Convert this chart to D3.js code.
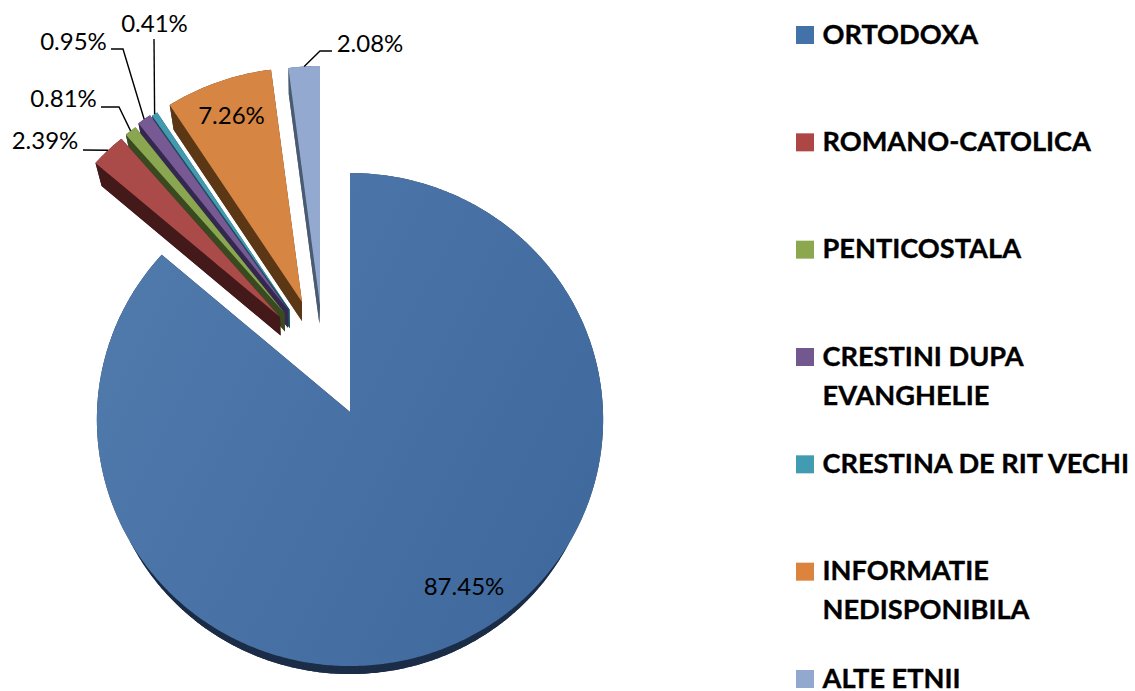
<!DOCTYPE html>
<html>
<head>
<meta charset="utf-8">
<script src="https://cdn.jsdelivr.net/npm/d3@7"></script>
<style>
html,body{margin:0;padding:0;background:#fff;}
svg{display:block;}
text{font-family:Lato,"Noto Sans",sans-serif;fill:#000;}
</style>
</head>
<body>
<svg id="chart" width="1135" height="691"></svg>
<script>
// ---- data ----
const categories = ["ORTODOXA","ROMANO-CATOLICA","PENTICOSTALA","CRESTINI DUPA EVANGHELIE","CRESTINA DE RIT VECHI","INFORMATIE NEDISPONIBILA","ALTE ETNII"];
const values = [87.45,2.39,0.81,0.95,0.41,7.26,2.08];
const valueLabels = ["87.45%","2.39%","0.81%","0.95%","0.41%","7.26%","2.08%"];
const legendLines = [["ORTODOXA"],["ROMANO-CATOLICA"],["PENTICOSTALA"],["CRESTINI DUPA","EVANGHELIE"],["CRESTINA DE RIT VECHI"],["INFORMATIE","NEDISPONIBILA"],["ALTE ETNII"]];

// ---- style and layout ----
const topColors = ["url(#mainGrad)","#AA4B49","#8AA650","#775A94","#4299B0","#D68542","#93A9CF"];
const wallColors = ["#1B2D47","#431919","#3A4A20","#352850","#1B4B5A","#5C3716","#4A5A70"];
const swatchColors = ["#4272A8","#AD4745","#8CA84F","#73578F","#419BB1","#DC843D","#92A8CF"];
const explodeX = [0,-70,-65.5,-62.5,-60.5,-48,-30];
const explodeY = [0,-95,-99,-103,-102.5,-110,-107];
const radiusFactor = [1,.98,.98,.98,.98,.98,1];
const vanishX = [350,300,300,300,300,300,300];
const drawOrder = [0,6,5,4,3,2,1];
const labelX = [464,45,63.5,73.5,154.5,231.5,370];
const labelY = [595,149,107,50,32,124,52];
const leaderElbows = [null,[[83,150]],[[101,107],[119,107]],[[111,49],[123,49]],[[154,39]],null,[[332,51],[320,51]]];
const leaderAt = [null,.5,.5,.5,.5,null,.5];
const cx = 350, cy = 412, rx = 253, ry = 246.3, persp = .0305;

const svg = d3.select("#chart");
const grad = svg.append("defs").append("linearGradient").attr("id","mainGrad")
  .attr("gradientUnits","userSpaceOnUse").attr("x1",98).attr("y1",300).attr("x2",604).attr("y2",560);
grad.append("stop").attr("offset",0).attr("stop-color","#5079AC");
grad.append("stop").attr("offset",1).attr("stop-color","#3F699D");

const arcs = d3.pie().sort(null).value(d=>d)(values);

function project(theta, r, i){
  const k = r*radiusFactor[i];
  const s = 1/(1+persp*r*Math.cos(theta));
  return [cx+explodeX[i]+rx*k*Math.sin(theta)*s, cy+explodeY[i]-ry*k*Math.cos(theta)*s];
}
const extrude = (p,i) => [p[0]+(vanishX[i]-p[0])*.03, p[1]+28-.03*p[1]];
const line = d3.line();

function outline(a,i){
  const n = Math.max(2,Math.ceil((a.endAngle-a.startAngle)/.01));
  const pts = d3.range(n+1).map(j=>project(a.startAngle+(a.endAngle-a.startAngle)*j/n,1,i));
  return [project(0,0,i),...pts];
}

const slices = svg.append("g");
drawOrder.forEach(i=>{
  const pts = outline(arcs[i],i);
  const g = slices.append("g");
  const closed = pts.concat([pts[0]]);
  g.append("path").attr("d",line(pts.map(p=>extrude(p,i)))+"Z").attr("fill",wallColors[i]);
  g.selectAll("path.wall").data(d3.pairs(closed)).join("path").attr("class","wall")
    .attr("d",([a,b])=>line([a,b,extrude(b,i),extrude(a,i)])+"Z")
    .attr("fill",wallColors[i]);
  g.append("path").attr("d",line(pts)+"Z").attr("fill",topColors[i]);
});

// leader lines
const leaders = svg.append("g").attr("fill","none").attr("stroke","#000").attr("stroke-width",1.4);
leaderElbows.forEach((el,i)=>{
  if(!el) return;
  const a = arcs[i];
  const end = project(a.startAngle+(a.endAngle-a.startAngle)*leaderAt[i],1,i);
  leaders.append("path").attr("d",line([...el,end]));
});

// value labels
svg.append("g").selectAll("text").data(valueLabels).join("text")
  .attr("x",(d,i)=>labelX[i]).attr("y",(d,i)=>labelY[i])
  .attr("text-anchor","middle").attr("font-size",24).text(d=>d);

// legend
const rowY = d3.scalePoint().domain(categories).range([35,679]);
const legend = svg.append("g").selectAll("g").data(categories).join("g")
  .attr("transform",d=>`translate(796,${rowY(d)})`);
legend.append("rect").attr("x",0).attr("y",-9).attr("width",18).attr("height",18)
  .attr("fill",(d,i)=>swatchColors[i]);
legend.each(function(d,i){
  d3.select(this).selectAll("text").data(legendLines[i]).join("text")
    .attr("x",26.5).attr("y",(t,j)=>8.5+j*39)
    .attr("font-size",27.2).attr("font-weight",700)
    .attr("stroke","#000").attr("stroke-width",.35).text(t=>t);
});
</script>
</body>
</html>
